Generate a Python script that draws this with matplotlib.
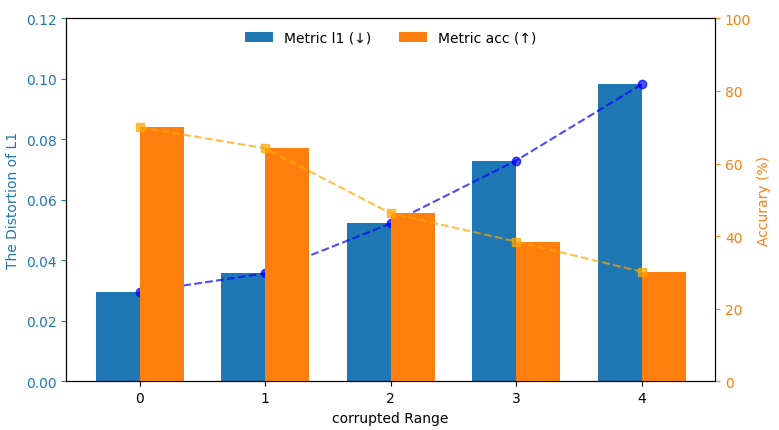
import numpy as np
import matplotlib.pyplot as plt

ranges = [0, 1, 2, 3, 4]
l1_vals = [0.0295, 0.0357, 0.0522, 0.0730, 0.0982]
acc_vals = [70.0, 64.2, 46.3, 38.5, 30.2]

x = np.arange(len(ranges))
w = 0.35

fig, ax1 = plt.subplots(figsize=(7.79, 4.31), dpi=100)
ax2 = ax1.twinx()

b1 = ax1.bar(x - w / 2, l1_vals, w, color='tab:blue', label='Metric l1 (↓)')
ax1.plot(x, l1_vals, 'o--', color='blue', alpha=0.7)
b2 = ax2.bar(x + w / 2, acc_vals, w, color='tab:orange', label='Metric acc (↑)')
ax2.plot(x, acc_vals, 's--', color='orange', alpha=0.7)

ax1.set_ylim(0, 0.12)
ax2.set_ylim(0, 100)
ax1.set_xticks(x)
ax1.set_xticklabels([str(r) for r in ranges])
ax1.set_xlabel('corrupted Range')
ax1.set_ylabel('The Distortion of L1', color='tab:blue')
ax2.set_ylabel('Accurary (%)', color='tab:orange')
ax1.tick_params(axis='y', colors='tab:blue')
ax2.tick_params(axis='y', colors='tab:orange')

ax1.legend([b1, b2], [b1.get_label(), b2.get_label()], loc='upper center',
           ncol=2, frameon=False)

plt.subplots_adjust(left=0.085, right=0.918, top=0.955, bottom=0.113)
plt.savefig('out.png')
